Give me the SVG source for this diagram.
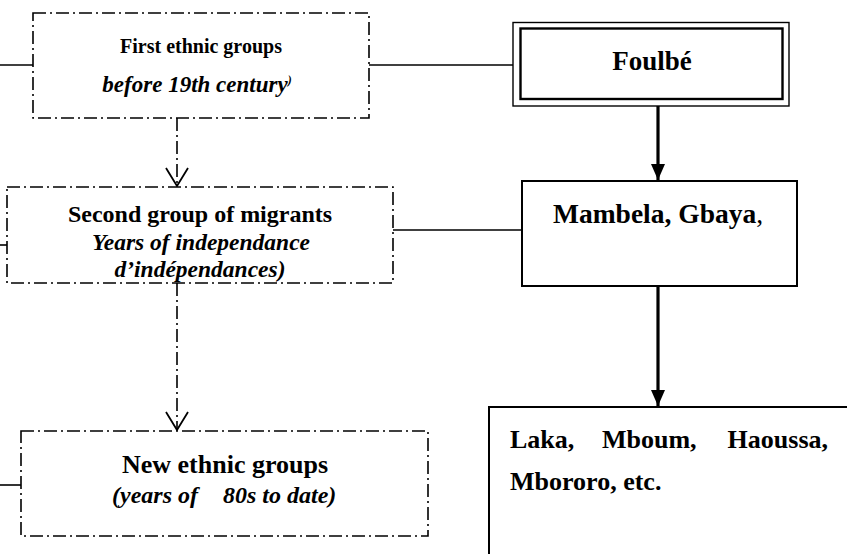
<svg xmlns="http://www.w3.org/2000/svg" width="847" height="554" viewBox="0 0 847 554">
<style>
.dd{fill:none;stroke:#000;stroke-width:1.6;stroke-dasharray:13 4 2 4}
.box{fill:#fff;stroke:#000;stroke-width:2}
.ln{fill:none;stroke:#000;stroke-width:1.6}
.thick{fill:none;stroke:#000;stroke-width:3.2}
text{font-family:"Liberation Serif","Times New Roman",serif;font-weight:bold;fill:#000}
.it{font-style:italic}
.c{text-anchor:middle}
</style>
<defs>
<marker id="openv" markerUnits="userSpaceOnUse" viewBox="0 0 20 24" refX="19" refY="12" markerWidth="20" markerHeight="24" orient="auto">
<path d="M1,1 L19,12 L1,23" fill="none" stroke="#000" stroke-width="1.8"/>
</marker>
<marker id="solid" markerUnits="userSpaceOnUse" viewBox="0 0 16 16" refX="16" refY="8" markerWidth="16" markerHeight="16" orient="auto">
<path d="M0,1 L16,8 L0,15 z" fill="#000"/>
</marker>
</defs>
<rect width="847" height="554" fill="#fff"/>
<g id="connectors">
<line class="ln" x1="0" y1="65" x2="33" y2="65"/>
<line class="ln" x1="369" y1="65" x2="513" y2="65"/>
<line class="ln" x1="0" y1="245" x2="7" y2="245"/>
<line class="ln" x1="393" y1="230" x2="522" y2="230"/>
<line class="ln" x1="0" y1="485" x2="21" y2="485"/>
<line class="dd" x1="177" y1="118" x2="177" y2="186" marker-end="url(#openv)"/>
<line class="dd" x1="177" y1="283" x2="177" y2="430" marker-end="url(#openv)"/>
<line class="thick" x1="658" y1="106" x2="658" y2="180" marker-end="url(#solid)"/>
<line class="thick" x1="658" y1="286" x2="658" y2="406" marker-end="url(#solid)"/>
</g>
<g id="first">
<rect class="dd" x="33" y="13" width="336" height="105"/>
<text class="c" x="201" y="53" font-size="20">First ethnic groups</text>
<text class="c it" x="197" y="92" font-size="23">before 19th century<tspan font-size="12" dy="-8">)</tspan></text>
</g>
<g id="second">
<rect class="dd" x="7" y="187" width="386" height="96"/>
<text class="c" x="200" y="222" font-size="24">Second group of migrants</text>
<text class="c it" x="201" y="250" font-size="23.5">Years of independance</text>
<text class="c it" x="200" y="277" font-size="23.5">d’indépendances)</text>
</g>
<g id="new">
<rect class="dd" x="21" y="431" width="407" height="105"/>
<text class="c" x="225" y="473" font-size="26">New ethnic groups</text>
<text class="it" x="112" y="503" font-size="24">(years of</text>
<text class="it" x="223" y="503" font-size="24">80s to date)</text>
</g>
<g id="foulbe">
<rect x="513" y="22.5" width="276" height="83.5" fill="#fff" stroke="#000" stroke-width="1.4"/>
<rect x="520.5" y="28.5" width="262" height="70.5" fill="none" stroke="#000" stroke-width="2.4"/>
<text class="c" x="652" y="70" font-size="27">Foulbé</text>
</g>
<g id="mambela">
<rect class="box" x="522" y="181" width="275" height="105"/>
<text x="553" y="223" font-size="27.5">Mambela, Gbaya<tspan font-weight="normal">,</tspan></text>
</g>
<g id="laka">
<rect class="box" x="489" y="407" width="370" height="160"/>
<text x="510" y="448" font-size="26">Laka,</text>
<text x="602" y="448" font-size="26">Mboum,</text>
<text x="828" y="448" font-size="26" text-anchor="end">Haoussa,</text>
<text x="510" y="490" font-size="26">Mbororo, etc.</text>
</g>
</svg>
